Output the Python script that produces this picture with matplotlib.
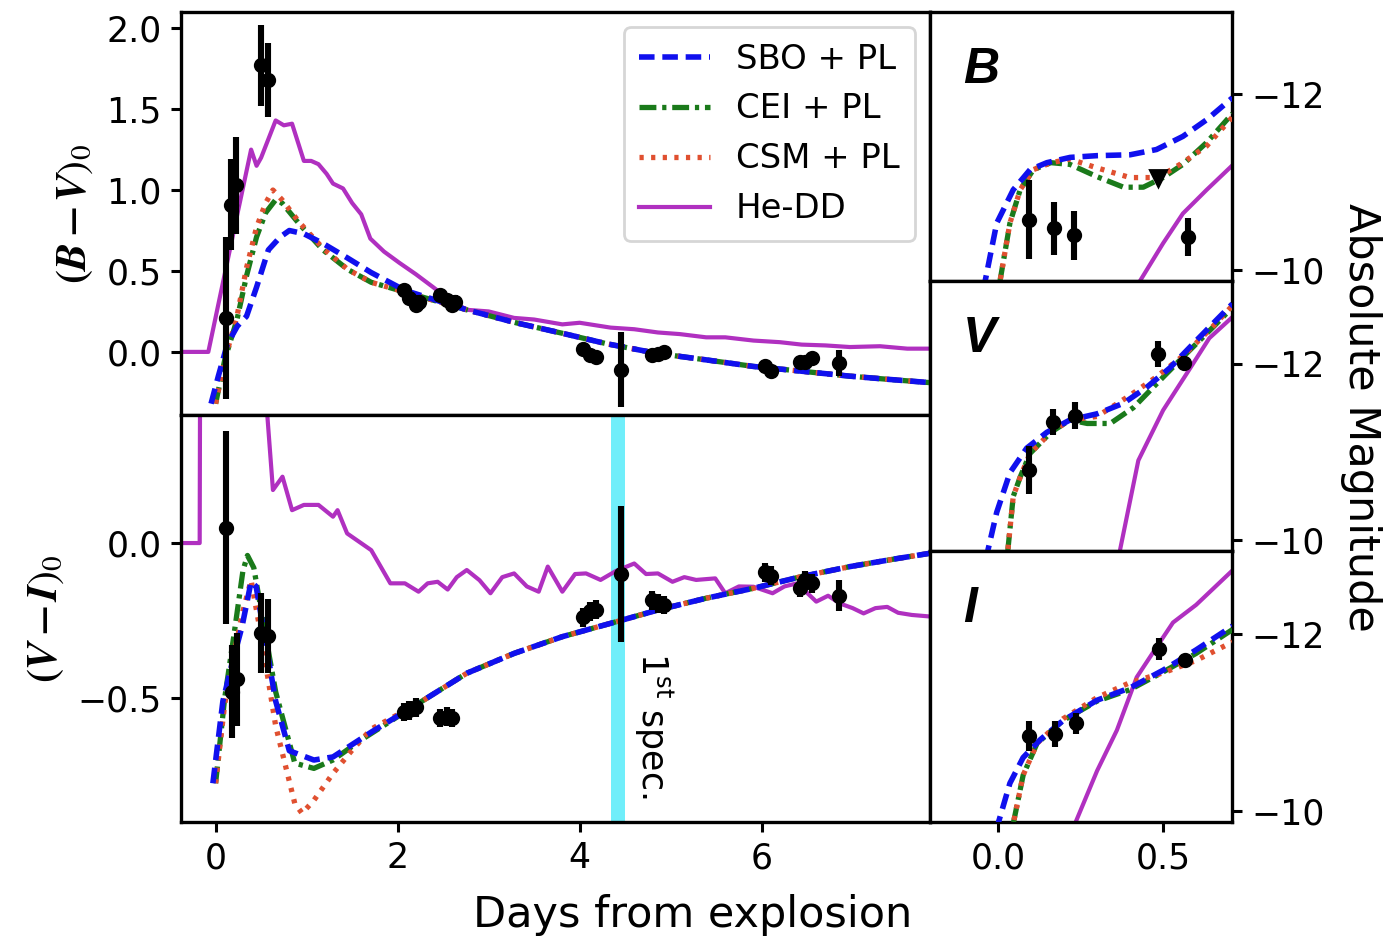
import matplotlib
matplotlib.use("Agg")
import matplotlib.pyplot as plt

# ---- colour curves, left panels (days from explosion) ----
# (B-V)_0 data
bv_t = [0.11, 0.165, 0.22, 0.50, 0.58, 2.07, 2.13, 2.20, 2.24, 2.47, 2.54, 2.60, 2.63,
        4.04, 4.11, 4.18, 4.45, 4.79, 4.86, 4.93, 6.04, 6.10, 6.42, 6.48, 6.55, 6.85]
bv_v = [0.21, 0.91, 1.03, 1.77, 1.68, 0.38, 0.33, 0.29, 0.31, 0.35, 0.32, 0.29, 0.31,
        0.02, -0.02, -0.03, -0.11, -0.02, -0.01, 0.0, -0.09, -0.12, -0.06, -0.06, -0.04, -0.07]
bv_e = [0.50, 0.28, 0.30, 0.25, 0.23, 0.04, 0.04, 0.04, 0.04, 0.04, 0.04, 0.04, 0.04,
        0.03, 0.03, 0.03, 0.23, 0.03, 0.03, 0.03, 0.03, 0.03, 0.03, 0.03, 0.03, 0.08]

# (V-I)_0 data
vi_t = [0.11, 0.18, 0.24, 0.50, 0.58, 2.07, 2.13, 2.20, 2.47, 2.54, 2.60,
        4.04, 4.11, 4.18, 4.45, 4.79, 4.86, 4.93, 6.04, 6.10, 6.42, 6.48, 6.55, 6.85]
vi_v = [0.05, -0.48, -0.44, -0.29, -0.30, -0.545, -0.54, -0.53, -0.565, -0.56, -0.565,
        -0.24, -0.22, -0.215, -0.10, -0.185, -0.195, -0.20, -0.095, -0.105, -0.145, -0.12, -0.13, -0.17]
vi_e = [0.31, 0.15, 0.15, 0.13, 0.12, 0.03, 0.03, 0.03, 0.03, 0.03, 0.03,
        0.03, 0.03, 0.03, 0.22, 0.03, 0.03, 0.03, 0.03, 0.03, 0.03, 0.03, 0.03, 0.05]

# models (B-V)
sbo_bv_t = [-0.05, 0.03, 0.13, 0.24, 0.34, 0.45, 0.58, 0.71, 0.81, 0.97, 1.18, 1.45, 1.71, 2.08,
            2.76, 3.3, 3.81, 4.3, 4.86, 5.4, 5.91, 6.45, 6.97, 7.4, 7.85]
sbo_bv_v = [-0.32, -0.15, 0.05, 0.16, 0.22, 0.40, 0.63, 0.71, 0.75, 0.73, 0.67, 0.58, 0.49, 0.38,
            0.26, 0.18, 0.115, 0.05, -0.01, -0.05, -0.09, -0.12, -0.15, -0.17, -0.19]
cei_bv_t = [0.0, 0.10, 0.235, 0.34, 0.45, 0.55, 0.66, 0.73, 0.92, 1.18, 1.45, 1.71, 2.08,
            2.76, 3.3, 3.81, 4.3, 4.86, 5.4, 5.91, 6.45, 6.97, 7.4, 7.85]
cei_bv_v = [-0.32, -0.05, 0.20, 0.47, 0.71, 0.86, 0.94, 0.92, 0.79, 0.63, 0.51, 0.43, 0.37,
            0.26, 0.18, 0.115, 0.05, -0.01, -0.05, -0.09, -0.12, -0.15, -0.17, -0.19]
csm_bv_t = [0.0, 0.10, 0.235, 0.34, 0.45, 0.55, 0.63, 0.73, 0.92, 1.18, 1.45, 1.71, 2.08,
            2.76, 3.3, 3.81, 4.3, 4.86, 5.4, 5.91, 6.45, 6.97, 7.4, 7.85]
csm_bv_v = [-0.32, -0.05, 0.22, 0.52, 0.77, 0.92, 1.00, 0.94, 0.80, 0.64, 0.51, 0.43, 0.37,
            0.26, 0.18, 0.115, 0.05, -0.01, -0.05, -0.09, -0.12, -0.15, -0.17, -0.19]
hedd_bv_t = [-0.38, -0.08, 0.10, 0.25, 0.39, 0.45, 0.50, 0.66, 0.75, 0.84, 0.97, 1.05, 1.13, 1.22,
             1.29, 1.40, 1.50, 1.60, 1.70, 1.85, 2.02, 2.20, 2.39, 2.55, 2.76, 3.00, 3.28, 3.50,
             3.81, 4.00, 4.34, 4.60, 4.86, 5.10, 5.39, 5.60, 5.91, 6.20, 6.44, 6.70, 6.97, 7.30,
             7.60, 7.85]
hedd_bv_v = [0.0, 0.0, 0.48, 0.88, 1.25, 1.15, 1.20, 1.43, 1.40, 1.41, 1.18, 1.18, 1.16, 1.10,
             1.04, 1.01, 0.92, 0.85, 0.70, 0.62, 0.55, 0.48, 0.40, 0.33, 0.26, 0.25, 0.21, 0.20,
             0.17, 0.18, 0.15, 0.14, 0.12, 0.11, 0.09, 0.09, 0.07, 0.06, 0.045, 0.04, 0.03, 0.035,
             0.02, 0.02]

# models (V-I)
sbo_vi_t = [-0.03, 0.08, 0.18, 0.29, 0.39, 0.445, 0.55, 0.66, 0.81, 1.08, 1.29, 1.71, 2.23, 2.76,
            3.28, 3.81, 4.34, 4.86, 5.39, 5.91, 6.44, 6.97, 7.49, 7.85]
sbo_vi_v = [-0.775, -0.51, -0.39, -0.27, -0.125, -0.14, -0.32, -0.51, -0.67, -0.70, -0.69, -0.61,
            -0.517, -0.42, -0.356, -0.302, -0.259, -0.216, -0.178, -0.146, -0.108, -0.076, -0.05, -0.033]
cei_vi_t = [0.0, 0.10, 0.20, 0.30, 0.35, 0.42, 0.50, 0.66, 0.87, 1.08, 1.29, 1.60, 2.23, 2.76,
            3.28, 3.81, 4.34, 4.86, 5.39, 5.91, 6.44, 6.97, 7.49, 7.85]
cei_vi_v = [-0.775, -0.50, -0.30, -0.09, -0.04, -0.08, -0.216, -0.48, -0.71, -0.727, -0.70, -0.635,
            -0.517, -0.42, -0.356, -0.302, -0.259, -0.216, -0.178, -0.146, -0.108, -0.076, -0.05, -0.033]
csm_vi_t = [0.0, 0.10, 0.20, 0.30, 0.39, 0.50, 0.66, 0.87, 0.95, 1.08, 1.29, 1.50, 1.71, 2.23, 2.76,
            3.28, 3.81, 4.34, 4.86, 5.39, 5.91, 6.44, 6.97, 7.49, 7.85]
csm_vi_v = [-0.775, -0.52, -0.36, -0.22, -0.12, -0.30, -0.59, -0.84, -0.872, -0.83, -0.743, -0.668,
            -0.60, -0.517, -0.42, -0.356, -0.302, -0.259, -0.216, -0.178, -0.146, -0.108, -0.076,
            -0.05, -0.033]
hedd_vi_t = [-0.38, -0.175, -0.17, 0.52, 0.63, 0.735, 0.84, 0.97, 1.13, 1.29, 1.34, 1.445, 1.71,
             1.92, 2.08, 2.23, 2.33, 2.44, 2.55, 2.65, 2.76, 2.9, 3.02, 3.15, 3.28, 3.42, 3.55,
             3.65, 3.81, 3.95, 4.07, 4.23, 4.4, 4.6, 4.73, 4.86, 5.02, 5.15, 5.28, 5.49, 5.6,
             5.75, 5.91, 6.12, 6.25, 6.39, 6.6, 6.73, 6.86, 7.0, 7.12, 7.25, 7.38, 7.5, 7.65, 7.85]
hedd_vi_v = [0.0, 0.0, 0.6, 0.6, 0.171, 0.214, 0.106, 0.123, 0.123, 0.085, 0.106, 0.031, -0.023,
             -0.13, -0.13, -0.157, -0.13, -0.125, -0.15, -0.11, -0.087, -0.12, -0.162, -0.11,
             -0.098, -0.14, -0.157, -0.076, -0.157, -0.10, -0.098, -0.119, -0.09, -0.066, -0.10,
             -0.098, -0.125, -0.11, -0.119, -0.114, -0.162, -0.14, -0.141, -0.162, -0.14, -0.13,
             -0.189, -0.17, -0.195, -0.21, -0.227, -0.21, -0.206, -0.225, -0.232, -0.237]

# ---- light curves, right panels (absolute magnitude) ----
B_t = [0.094, 0.17, 0.23, 0.576]
B_m = [-10.57, -10.47, -10.39, -10.37]
B_e = [0.45, 0.30, 0.28, 0.22]
B_lim_t = [0.485]
B_lim_m = [-11.05]
V_t = [0.094, 0.167, 0.233, 0.485, 0.564]
V_m = [-10.79, -11.34, -11.41, -12.11, -12.01]
V_e = [0.27, 0.15, 0.15, 0.15, 0.08]
I_t = [0.094, 0.173, 0.236, 0.488, 0.567]
I_m = [-10.85, -10.87, -10.99, -11.83, -11.70]
I_e = [0.17, 0.15, 0.12, 0.12, 0.06]

sbo_B_t = [-0.06, -0.039, -0.004, 0.046, 0.097, 0.148, 0.218, 0.30, 0.40, 0.48, 0.56, 0.632, 0.71]
sbo_B_m = [-9.5, -9.87, -10.53, -10.91, -11.14, -11.22, -11.28, -11.30, -11.31, -11.37, -11.52, -11.71, -11.96]
cei_B_t = [-0.01, 0.006, 0.036, 0.067, 0.107, 0.16, 0.218, 0.30, 0.38, 0.44, 0.50, 0.56, 0.632, 0.71]
cei_B_m = [-9.5, -9.87, -10.53, -10.91, -11.14, -11.22, -11.20, -11.06, -10.94, -10.94, -11.05, -11.20, -11.45, -11.78]
csm_B_t = [-0.01, 0.006, 0.036, 0.067, 0.107, 0.16, 0.218, 0.30, 0.40, 0.485, 0.56, 0.632, 0.71]
csm_B_m = [-9.5, -9.87, -10.53, -10.91, -11.14, -11.22, -11.26, -11.16, -11.05, -11.05, -11.22, -11.41, -11.74]
hedd_B_t = [0.40, 0.43, 0.50, 0.56, 0.632, 0.71]
hedd_B_m = [-9.5, -9.87, -10.30, -10.64, -10.91, -11.19]

sbo_V_t = [-0.05, -0.03, -0.004, 0.036, 0.087, 0.148, 0.218, 0.30, 0.38, 0.45, 0.52, 0.60, 0.66, 0.71]
sbo_V_m = [-9.5, -9.89, -10.31, -10.76, -11.04, -11.22, -11.36, -11.43, -11.55, -11.73, -11.95, -12.26, -12.49, -12.68]
cei_V_t = [0.02, 0.03, 0.046, 0.067, 0.097, 0.16, 0.218, 0.27, 0.34, 0.41, 0.48, 0.564, 0.65, 0.71]
cei_V_m = [-9.5, -9.89, -10.49, -10.71, -10.98, -11.22, -11.36, -11.32, -11.32, -11.50, -11.77, -12.09, -12.41, -12.64]
csm_V_t = [0.02, 0.03, 0.046, 0.067, 0.097, 0.16, 0.218, 0.30, 0.40, 0.48, 0.564, 0.65, 0.71]
csm_V_m = [-9.5, -9.89, -10.49, -10.71, -10.98, -11.22, -11.36, -11.40, -11.64, -11.85, -12.10, -12.42, -12.66]
hedd_V_t = [0.36, 0.37, 0.425, 0.50, 0.572, 0.64, 0.71]
hedd_V_m = [-9.5, -9.89, -10.90, -11.47, -11.89, -12.29, -12.53]

sbo_I_t = [-0.01, 0.0, 0.036, 0.076, 0.127, 0.197, 0.30, 0.40, 0.50, 0.60, 0.71]
sbo_I_m = [-9.5, -9.85, -10.31, -10.60, -10.80, -11.02, -11.25, -11.39, -11.59, -11.82, -12.09]
cei_I_t = [0.04, 0.046, 0.076, 0.118, 0.197, 0.30, 0.40, 0.50, 0.60, 0.71]
cei_I_m = [-9.5, -9.85, -10.40, -10.76, -11.02, -11.24, -11.37, -11.57, -11.78, -12.05]
csm_I_t = [0.04, 0.046, 0.076, 0.118, 0.197, 0.30, 0.40, 0.50, 0.60, 0.71]
csm_I_m = [-9.5, -9.85, -10.40, -10.76, -11.04, -11.28, -11.45, -11.56, -11.70, -11.91]
hedd_I_t = [0.22, 0.233, 0.30, 0.36, 0.42, 0.48, 0.53, 0.60, 0.71]
hedd_I_m = [-9.5, -9.85, -10.45, -10.91, -11.51, -11.85, -12.13, -12.33, -12.72]

spec_t0, spec_t1 = 4.35, 4.50

c_sbo, c_cei, c_csm, c_hedd = "#1010ee", "#1a7a1a", "#e05030", "#b030c0"
tick_fs = 12.5

plt.rcParams['axes.linewidth'] = 1.2
plt.rcParams['xtick.major.width'] = 1.1
plt.rcParams['ytick.major.width'] = 1.1

fig = plt.figure(figsize=(6.925, 4.7), dpi=200)
ax_bv = fig.add_axes([0.1307, 0.5585, 0.5408, 0.4287])
ax_vi = fig.add_axes([0.1307, 0.1255, 0.5408, 0.4330])
ax_B = fig.add_axes([0.6715, 0.7011, 0.2181, 0.2862])
ax_V = fig.add_axes([0.6715, 0.4138, 0.2181, 0.2873])
ax_I = fig.add_axes([0.6715, 0.1255, 0.2181, 0.2883])

def models(ax, sets):
    (t1, v1), (t2, v2), (t3, v3), (t4, v4) = sets
    ax.plot(t1, v1, color=c_sbo, ls=(0, (2.8, 1.4)), lw=2.0, label="SBO + PL", zorder=4)
    ax.plot(t2, v2, color=c_cei, ls=(0, (3.2, 1.1, 0.8, 1.1)), lw=1.9, label="CEI + PL", zorder=3)
    ax.plot(t3, v3, color=c_csm, ls=(0, (0.8, 1.4)), lw=1.9, label="CSM + PL", zorder=3)
    ax.plot(t4, v4, color=c_hedd, ls="-", lw=1.5, label="He-DD", zorder=2)

def points(ax, t, v, e):
    ax.errorbar(t, v, yerr=e, fmt="o", color="k", ms=4.5, elinewidth=2.2, capsize=0, zorder=6)

# (B-V)
models(ax_bv, [(sbo_bv_t, sbo_bv_v), (cei_bv_t, cei_bv_v), (csm_bv_t, csm_bv_v), (hedd_bv_t, hedd_bv_v)])
points(ax_bv, bv_t, bv_v, bv_e)
ax_bv.set_xlim(-0.38, 7.85)
ax_bv.set_ylim(-0.39, 2.1)
ax_bv.set_yticks([0.0, 0.5, 1.0, 1.5, 2.0])
ax_bv.tick_params(bottom=False, labelbottom=False, labelsize=tick_fs)
ax_bv.set_ylabel(r"$\boldsymbol{(B-V)_0}$", fontsize=15, math_fontfamily="stix")
leg = ax_bv.legend(loc="upper right", fontsize=12.2, handlelength=2.1, borderpad=0.45,
                   labelspacing=0.5, handletextpad=0.75, borderaxespad=0.45)

# (V-I)
models(ax_vi, [(sbo_vi_t, sbo_vi_v), (cei_vi_t, cei_vi_v), (csm_vi_t, csm_vi_v), (hedd_vi_t, hedd_vi_v)])
points(ax_vi, vi_t, vi_v, vi_e)
ax_vi.axvspan(spec_t0, spec_t1, color="#70eefa", lw=0, zorder=1)
ax_vi.text(spec_t1 + 0.07, -0.35, r"1$^{\rm st}$ spec.", rotation=270, ha="left", va="top",
           fontsize=12.5)
ax_vi.set_xlim(-0.38, 7.85)
ax_vi.set_ylim(-0.9, 0.413)
ax_vi.set_xticks([0, 2, 4, 6])
ax_vi.set_yticks([0.0, -0.5])
ax_vi.tick_params(labelsize=tick_fs)
ax_vi.set_ylabel(r"$\boldsymbol{(V-I)_0}$", fontsize=15, math_fontfamily="stix")

# light curves
for ax, sets, (t, m, e), letter in [
        (ax_B, [(sbo_B_t, sbo_B_m), (cei_B_t, cei_B_m), (csm_B_t, csm_B_m), (hedd_B_t, hedd_B_m)],
         (B_t, B_m, B_e), "B"),
        (ax_V, [(sbo_V_t, sbo_V_m), (cei_V_t, cei_V_m), (csm_V_t, csm_V_m), (hedd_V_t, hedd_V_m)],
         (V_t, V_m, V_e), "V"),
        (ax_I, [(sbo_I_t, sbo_I_m), (cei_I_t, cei_I_m), (csm_I_t, csm_I_m), (hedd_I_t, hedd_I_m)],
         (I_t, I_m, I_e), "I")]:
    models(ax, sets)
    points(ax, t, m, e)
    ax.set_xlim(-0.206, 0.709)
    ax.set_ylim(-9.87, -12.94)
    ax.set_yticks([-12, -10])
    ax.yaxis.tick_right()
    ax.tick_params(labelsize=tick_fs)
    ax.text(0.11, 0.70, letter, transform=ax.transAxes, fontsize=18, fontweight="bold",
            fontstyle="italic", family="Liberation Sans", va="bottom", ha="left")
    if ax is not ax_I:
        ax.tick_params(bottom=False, labelbottom=False)

ax_B.plot(B_lim_t, B_lim_m, "v", color="k", ms=6, zorder=6)
ax_I.set_xticks([0.0, 0.5])

fig.text(0.5, 0.027, "Days from explosion", ha="center", va="center", fontsize=15.5)
fig.text(0.983, 0.556, "Absolute Magnitude", ha="center", va="center", rotation=270, fontsize=15.5)

fig.savefig("out.png", dpi=200)
